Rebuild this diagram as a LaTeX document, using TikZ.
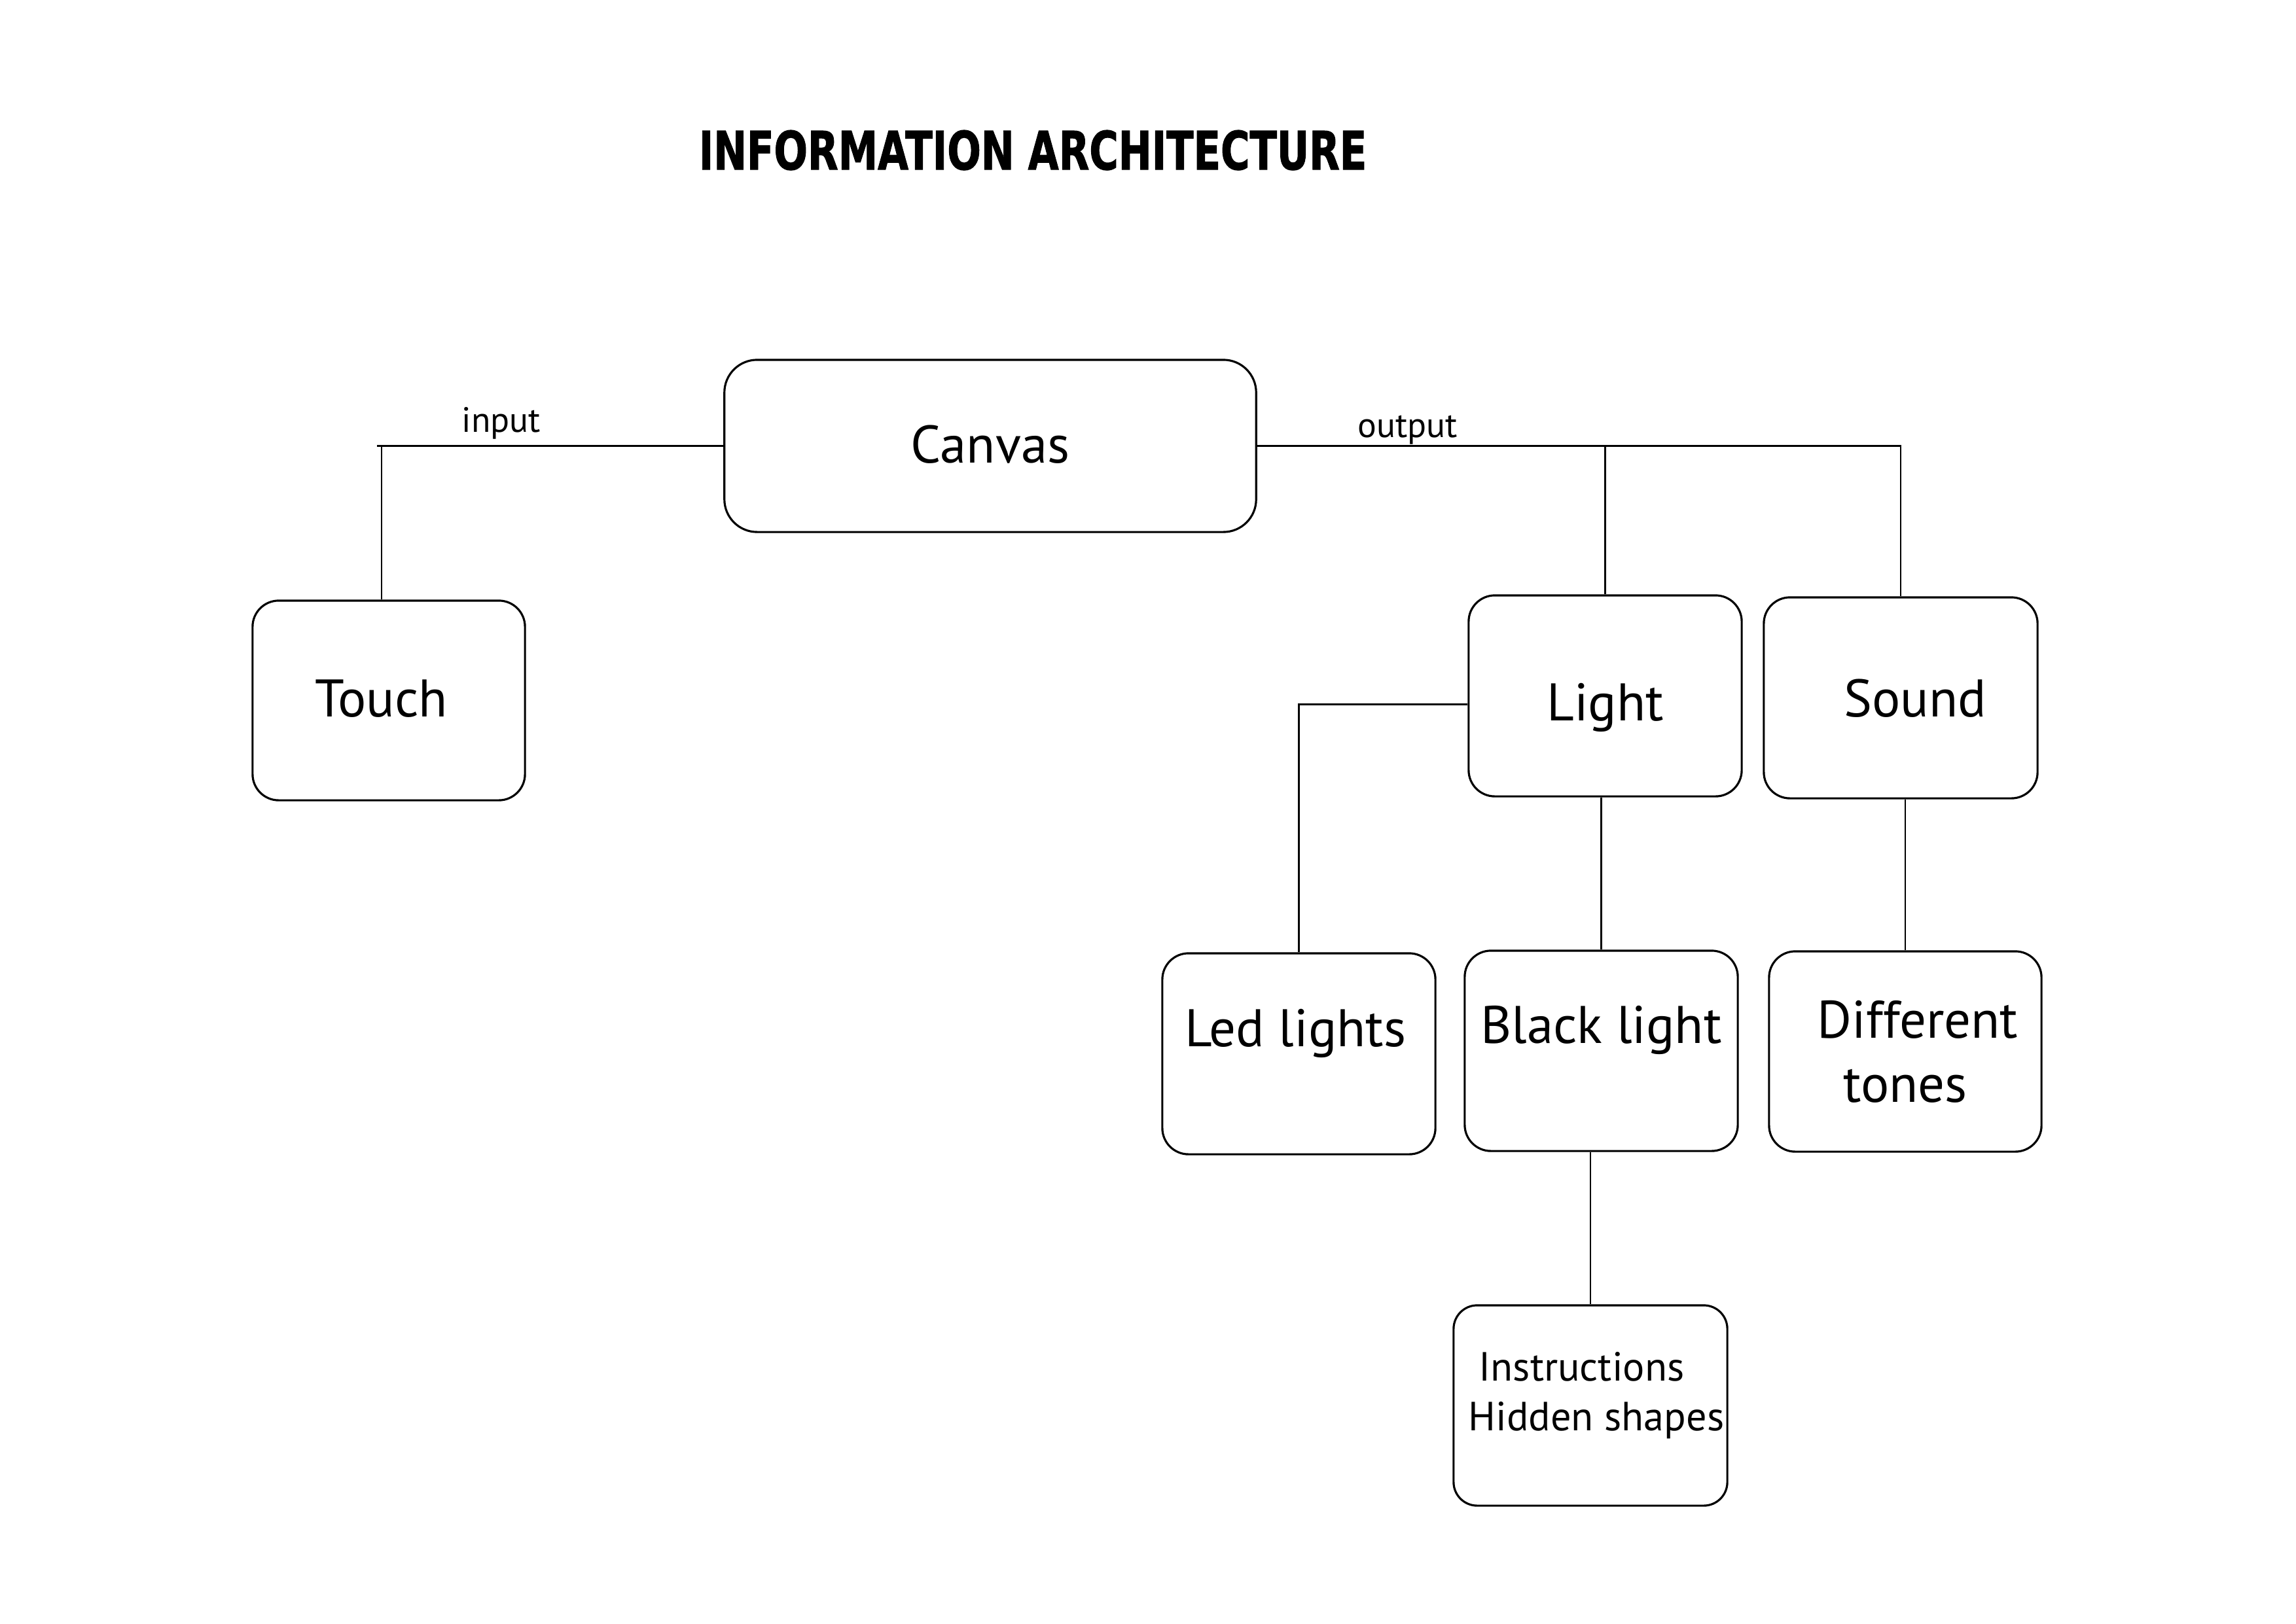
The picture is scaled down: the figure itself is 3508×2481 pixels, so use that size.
\documentclass[tikz,border=0pt]{standalone}
\usepackage{fontspec}
\setmainfont{PT Sans}
\newfontfamily\titlefont[FakeBold=1.5]{DejaVu Sans}
\begin{document}
\begin{tikzpicture}[x=0.01cm,y=-0.01cm,
  box/.style={draw=black,line width=0.9pt,rounded corners=0.4cm,inner sep=0pt,
    minimum width=4.17cm,minimum height=3.06cm,align=center,
    font=\fontsize{23pt}{27.9pt}\selectfont},
  onebox/.style={box,text height=0.57cm,text depth=0cm},
  link/.style={draw=black,line width=0.8pt},
  lbl/.style={inner sep=0pt,anchor=base west,font=\fontsize{15.3pt}{17pt}\selectfont}]
\useasboundingbox (0,0) rectangle (3508,2481);
% title
\node[inner sep=0pt,anchor=base west] (title) at (1067,259)
  {\resizebox{10.2cm}{0.6cm}{\titlefont\bfseries INFORMATION ARCHITECTURE}};
% boxes
\node[onebox,rounded corners=0.5cm,minimum width=8.12cm,minimum height=2.63cm,text height=0.52cm] (canvas) at (1513,681.5) {Canvas};
\node[onebox,minimum width=4.16cm,minimum height=3.05cm,text height=0.5cm] (touch) at (594,1070.5) {Touch\hspace{0.22cm}\mbox{}};
\node[onebox,minimum height=3.07cm,text height=0.75cm] (light) at (2452.5,1063.5) {Light};
\node[onebox,minimum width=4.18cm,minimum height=3.07cm] (sound) at (2904,1066.5) {\mbox{}\hspace{0.44cm}Sound};
\node[onebox,text depth=0.8cm,minimum height=3.07cm] (led) at (1984.5,1610.5) {Led lights\hspace{0.1cm}\mbox{}};
\node[onebox,text depth=0.8cm] (black) at (2446.5,1606) {Black light};
\node[box,minimum width=4.16cm] (diff) at (2911,1607) {\mbox{}\hspace{0.38cm}Different\\tones};
\node[box,rounded corners=0.36cm,minimum width=4.18cm,
  font=\fontsize{17.7pt}{21.6pt}\selectfont] (instr) at (2430,2148)
  {\mbox{}\hspace{0.18cm}\raisebox{0.15cm}[\height][\depth]{\begin{tabular}{@{}c@{}}Instructions\hspace{0.45cm}\mbox{}\\Hidden shapes\end{tabular}}};
% labels
\node[lbl] (lblin) at (705,660) {input};
\node[lbl] (lblout) at (2074,668) {output};
% connectors
\coordinate (inEnd) at (576,681.5);
\coordinate (inL) at (583,681.5);
\draw[link] (canvas.west) -- (inEnd);
\draw[link] (inL) -- (inL |- touch.north);
\draw[link] (canvas.east) -| (sound.north);
\draw[link] (light.north) -- (light.north |- canvas.east);
\draw[link] ([yshift=-0.13cm]light.west) -| (led.north);
\draw[link] (black.north |- light.south) -- (black.north);
\draw[link] (diff.north |- sound.south) -- (diff.north);
\draw[link] (instr.north |- black.south) -- (instr.north);
\end{tikzpicture}
\end{document}
